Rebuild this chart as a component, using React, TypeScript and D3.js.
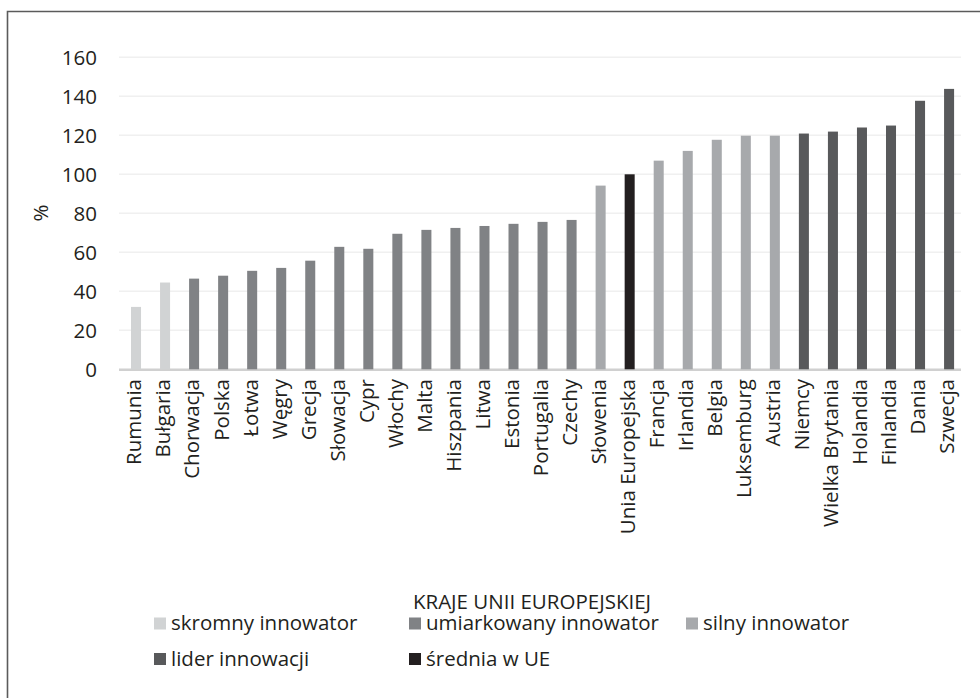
import React, { useEffect, useRef } from 'react';
import * as d3 from 'd3';

// countries in chart order
const countries = [
  'Rumunia', 'Bułgaria', 'Chorwacja', 'Polska', 'Łotwa', 'Węgry', 'Grecja',
  'Słowacja', 'Cypr', 'Włochy', 'Malta', 'Hiszpania', 'Litwa', 'Estonia',
  'Portugalia', 'Czechy', 'Słowenia', 'Unia Europejska', 'Francja', 'Irlandia',
  'Belgia', 'Luksemburg', 'Austria', 'Niemcy', 'Wielka Brytania', 'Holandia',
  'Finlandia', 'Dania', 'Szwecja',
];

// innovation index, % of EU average
const values = [
  32, 44.5, 46.5, 48, 50.5, 52, 55.7, 62.8, 61.8, 69.5, 71.5, 72.5, 73.5, 74.6,
  75.6, 76.6, 94.2, 100, 107, 112, 117.7, 119.8, 119.8, 120.9, 121.9, 124,
  125, 137.7, 143.8,
];

// group index per country (see legend order)
const groups = [
  0, 0, 1, 1, 1, 1, 1, 1, 1, 1, 1, 1, 1, 1, 1, 1, 2, 4, 2, 2, 2, 2, 2, 3, 3, 3,
  3, 3, 3,
];

const legendLabels = [
  'skromny innowator',
  'umiarkowany innowator',
  'silny innowator',
  'lider innowacji',
  'średnia w UE',
];
const groupColors = ['#d1d3d4', '#808285', '#a7a9ac', '#58595b', '#231f20'];

const yTicks = [0, 20, 40, 60, 80, 100, 120, 140, 160];

const W = 980;
const H = 698;
const FONT = '"Open Sans", "DejaVu Sans", sans-serif';
const TEXT = '#231f20';
const FS = 20.5;

const App: React.FC = () => {
  const ref = useRef<SVGSVGElement>(null);

  useEffect(() => {
    if (!ref.current) return;
    const svg = d3.select(ref.current);
    svg.selectAll('*').remove();

    const x = d3
      .scaleBand<string>()
      .domain(countries)
      .range([121.5, 963.6])
      .paddingInner(0.655)
      .paddingOuter(0.3275);

    const y = d3.scaleLinear().domain([0, 160]).range([369.3, 57.3]);

    // frame (only top and left visible)
    svg
      .append('path')
      .attr('d', `M7.5,${H} V11.5 H${W}`)
      .attr('fill', 'none')
      .attr('stroke', '#5b5b5b')
      .attr('stroke-width', 1.6);

    // gridlines
    svg
      .append('g')
      .selectAll('line')
      .data(yTicks.filter((t) => t > 0))
      .enter()
      .append('line')
      .attr('x1', 119)
      .attr('x2', 961)
      .attr('y1', (d) => y(d))
      .attr('y2', (d) => y(d))
      .attr('stroke', '#f0f0f0')
      .attr('stroke-width', 1.5);

    // y tick labels
    svg
      .append('g')
      .selectAll('text')
      .data(yTicks)
      .enter()
      .append('text')
      .attr('x', 97)
      .attr('y', (d) => y(d))
      .attr('dy', '0.36em')
      .attr('text-anchor', 'end')
      .attr('font-family', FONT)
      .attr('font-size', FS)
      .attr('fill', TEXT)
      .text((d) => d);

    // y title
    svg
      .append('text')
      .attr('transform', 'translate(40.5,213) rotate(-90)')
      .attr('dy', '0.36em')
      .attr('text-anchor', 'middle')
      .attr('font-family', FONT)
      .attr('font-size', FS)
      .attr('fill', TEXT)
      .text('%');

    // axis line
    svg
      .append('line')
      .attr('x1', 119)
      .attr('x2', 961)
      .attr('y1', y(0) + 0.5)
      .attr('y2', y(0) + 0.5)
      .attr('stroke', '#d0d0d0')
      .attr('stroke-width', 2.5);

    // bars
    svg
      .append('g')
      .selectAll('rect')
      .data(countries)
      .enter()
      .append('rect')
      .attr('x', (d) => x(d)!)
      .attr('width', x.bandwidth())
      .attr('y', (d, i) => y(values[i]))
      .attr('height', (d, i) => y(0) - y(values[i]))
      .attr('fill', (d, i) => groupColors[groups[i]]);

    // x labels, rotated
    svg
      .append('g')
      .selectAll('text')
      .data(countries)
      .enter()
      .append('text')
      .attr(
        'transform',
        (d) => `translate(${x(d)! + x.bandwidth() / 2 - 2},379) rotate(-90)`,
      )
      .attr('dy', '0.36em')
      .attr('text-anchor', 'end')
      .attr('font-family', FONT)
      .attr('font-size', FS)
      .attr('fill', TEXT)
      .text((d) => d);

    // x title
    svg
      .append('text')
      .attr('x', 532)
      .attr('y', 609)
      .attr('text-anchor', 'middle')
      .attr('font-family', FONT)
      .attr('font-size', FS)
      .attr('fill', TEXT)
      .text('KRAJE UNII EUROPEJSKIEJ');

    // legend
    const colX = [154, 409, 686];
    const rowY = [623.5, 659];
    const legend = svg
      .append('g')
      .selectAll('g')
      .data(legendLabels)
      .enter()
      .append('g')
      .attr(
        'transform',
        (d, i) => `translate(${colX[i % 3]},${rowY[Math.floor(i / 3)]})`,
      );
    legend
      .append('rect')
      .attr('x', 0)
      .attr('y', -6)
      .attr('width', 12)
      .attr('height', 12)
      .attr('fill', (d, i) => groupColors[i]);
    legend
      .append('text')
      .attr('x', 17)
      .attr('y', 0)
      .attr('dy', '0.33em')
      .attr('font-family', FONT)
      .attr('font-size', FS)
      .attr('fill', TEXT)
      .text((d) => d);
  }, []);

  return (
    <svg
      ref={ref}
      width={W}
      height={H}
      style={{ position: 'absolute', left: 0, top: 0, background: '#fff' }}
    />
  );
};

export default App;
